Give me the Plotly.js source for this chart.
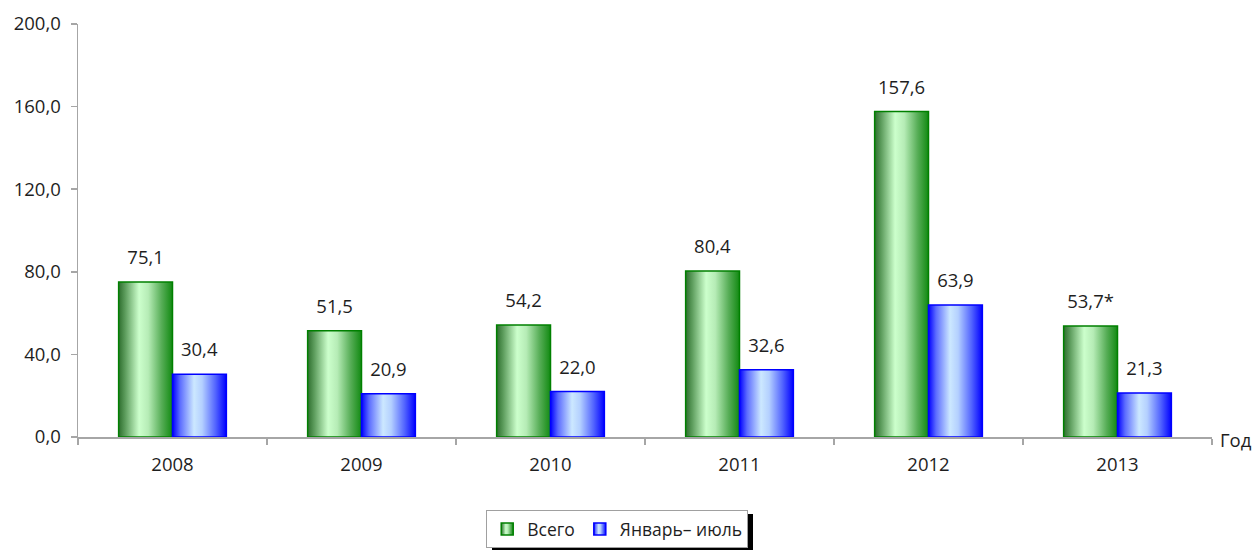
<!DOCTYPE html>
<html>
<head>
<meta charset="utf-8">
<script src="https://cdn.plot.ly/plotly-3.0.1.min.js"></script>
<style>html,body{margin:0;padding:0;background:#fff;}#chart{width:1255px;height:550px;}</style>
</head>
<body>
<div id="chart"></div>
<script>
var years = ['2008', '2009', '2010', '2011', '2012', '2013'];
var totalValues = [75.1, 51.5, 54.2, 80.4, 157.6, 53.7];
var totalLabels = ['75,1', '51,5', '54,2', '80,4', '157,6', '53,7*'];
var janJulValues = [30.4, 20.9, 22.0, 32.6, 63.9, 21.3];
var janJulLabels = ['30,4', '20,9', '22,0', '32,6', '63,9', '21,3'];
var seriesNames = ['Всего', 'Январь– июль'];
var yTicks = [0, 40, 80, 120, 160, 200];
var xAxisLabel = 'Год';

var FONT = '"Open Sans", "Noto Sans", sans-serif';
var TXT = '#1e1e1e';

var traces = [
  {
    type: 'bar', name: seriesNames[0], x: years, y: totalValues,
    text: totalLabels, textposition: 'outside', cliponaxis: false,
    textfont: {family: FONT, size: 18.5, color: TXT},
    marker: {color: '#7fcf7f', line: {color: '#008000', width: 1.5}},
    hoverinfo: 'skip'
  },
  {
    type: 'bar', name: seriesNames[1], x: years, y: janJulValues,
    text: janJulLabels, textposition: 'outside', cliponaxis: false,
    textfont: {family: FONT, size: 18.5, color: TXT},
    marker: {color: '#7f8fff', line: {color: '#0000ff', width: 1.5}},
    hoverinfo: 'skip'
  }
];

var layout = {
  width: 1255, height: 550,
  margin: {l: 78, r: 43, t: 24, b: 113, autoexpand: false},
  paper_bgcolor: '#ffffff', plot_bgcolor: '#ffffff',
  font: {family: FONT, size: 18, color: TXT},
  separators: ', ',
  barmode: 'group', bargap: 0.43, bargroupgap: 0,
  showlegend: true,
  legend: {
    orientation: 'h', x: 0.4755, xanchor: 'center', y: -0.177, yanchor: 'top',
    bordercolor: '#a0a0a0', borderwidth: 1, bgcolor: '#ffffff',
    font: {family: FONT, size: 17.5, color: TXT},
    itemwidth: 30, traceorder: 'normal'
  },
  xaxis: {
    type: 'category', showline: true, linecolor: '#a6a6a6', linewidth: 1.5,
    ticks: 'outside', tickson: 'boundaries', ticklen: 6, tickcolor: '#a6a6a6', tickwidth: 1.5,
    ticklabelstandoff: 10,
    showgrid: false, zeroline: false, tickfont: {family: FONT, size: 18.5, color: TXT},
    fixedrange: true
  },
  yaxis: {
    range: [0, 200], tickvals: yTicks, tickformat: '.1f',
    showline: true, linecolor: '#a6a6a6', linewidth: 1.5,
    ticks: 'outside', ticklen: 6, tickcolor: '#a6a6a6', tickwidth: 1.5,
    ticklabelstandoff: 6,
    showgrid: false, zeroline: false, tickfont: {family: FONT, size: 18.5, color: TXT},
    fixedrange: true
  },
  annotations: [{
    xref: 'paper', yref: 'y', x: 1, y: 0, xanchor: 'left', yanchor: 'middle',
    xshift: 6, yshift: -2, text: xAxisLabel, showarrow: false,
    font: {family: FONT, size: 18.5, color: TXT}
  }]
};

function addGradient(defs, id, stops) {
  var ns = 'http://www.w3.org/2000/svg';
  var g = document.createElementNS(ns, 'linearGradient');
  g.setAttribute('id', id);
  g.setAttribute('x1', '0'); g.setAttribute('y1', '0');
  g.setAttribute('x2', '1'); g.setAttribute('y2', '0');
  stops.forEach(function (s) {
    var st = document.createElementNS(ns, 'stop');
    st.setAttribute('offset', s[0]);
    st.setAttribute('stop-color', s[1]);
    g.appendChild(st);
  });
  defs.appendChild(g);
}

Plotly.newPlot('chart', traces, layout, {displayModeBar: false, staticPlot: true}).then(function (gd) {
  var svg = gd.querySelector('.main-svg');
  var defs = svg.querySelector('defs');
  addGradient(defs, 'gradGreen', [
    ['0%', '#2e6e2e'], ['12%', '#5c9c5c'], ['38%', '#ccffcc'], ['55%', '#b6ecb6'],
    ['80%', '#56ad56'], ['100%', '#128a12']
  ]);
  addGradient(defs, 'gradBlue', [
    ['0%', '#0000ff'], ['14%', '#5c6cff'], ['40%', '#cce8ff'], ['55%', '#b4d0ff'],
    ['80%', '#5264ff'], ['100%', '#0000ff']
  ]);
  var ids = ['gradGreen', 'gradBlue'];
  var barTraces = gd.querySelectorAll('.barlayer .trace.bars');
  barTraces.forEach(function (t, i) {
    t.querySelectorAll('.point path').forEach(function (p) {
      p.style.fill = 'url(#' + ids[i] + ')';
    });
    t.querySelectorAll('.point text').forEach(function (tx) {
      var tr = tx.getAttribute('transform') || '';
      tx.setAttribute('transform', 'translate(0,-10) ' + tr);
    });
  });
  var legItems = gd.querySelectorAll('.legend .traces');
  legItems.forEach(function (it, i) {
    it.querySelectorAll('.legendpoints path').forEach(function (p) {
      p.style.fill = 'url(#' + ids[i] + ')';
    });
  });
  var bg = gd.querySelector('.legend .bg');
  if (bg) {
    var sh = bg.cloneNode(true);
    sh.setAttribute('class', 'legshadow');
    sh.style.fill = '#000000';
    sh.style.stroke = 'none';
    var tr = sh.getAttribute('transform') || '';
    sh.setAttribute('transform', 'translate(5,3) ' + tr);
    bg.parentNode.insertBefore(sh, bg);
  }
});
</script>
</body>
</html>
